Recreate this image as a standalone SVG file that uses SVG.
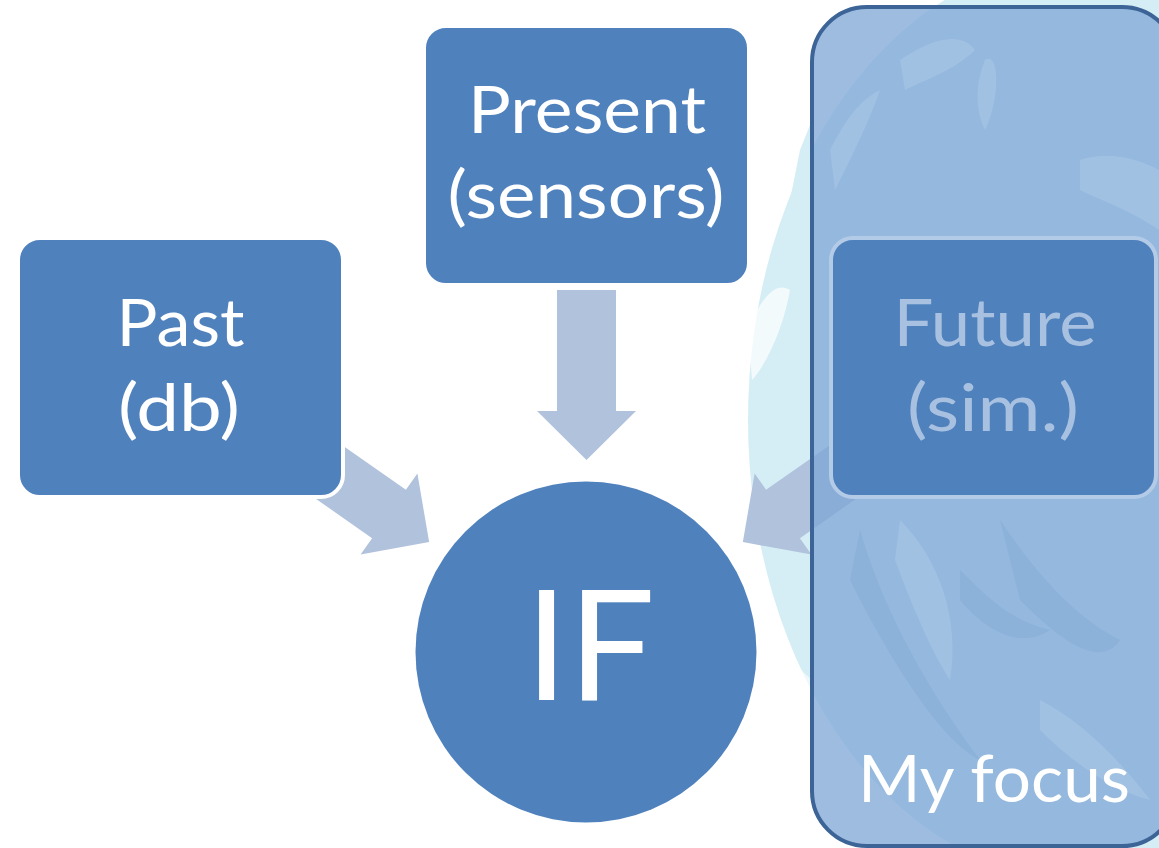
<svg xmlns="http://www.w3.org/2000/svg" width="1159" height="848" viewBox="0 0 1159 848">
  <style>
    .box { fill: #4f81bd; stroke: #ffffff; stroke-width: 4; }
    .arrow { fill: #b1c2dd; }
    .lbl { font-family: Lato, "Open Sans", "Liberation Sans", sans-serif; fill: #ffffff; text-anchor: middle; font-size: 66px; }
    .globe { fill: #d5eef5; }
    .streak { fill: #ffffff; opacity: 0.13; }
    .dstreak { fill: #5d8ec8; opacity: 0.14; }
  </style>
  <defs>
    <polygon id="arrowShape" points="-121,-29.5 0,-29.5 0,-49.5 49,0 0,49.5 0,29.5 -121,29.5"/>
  </defs>
  <rect width="1159" height="848" fill="#ffffff"/>

  <g id="background">
    <ellipse class="globe" cx="1080" cy="420" rx="332" ry="460"/>
    <path class="globe" d="M790 200 L800 150 L812 120 L812 260 L796 240 Z"/>
    <path d="M748 330 C760 300 775 280 790 290 C785 320 770 360 752 380 Z" fill="#ffffff" opacity="0.7"/>
    <path d="M760 600 C770 640 790 660 812 680 L812 760 C790 720 770 680 760 640 Z" fill="#ffffff" opacity="0.6"/>
  </g>

  <g id="connectors">
    <polygon class="arrow" points="557,290 616,290 616,411 636,411 586.5,460 537,411 557,411"/>
    <use href="#arrowShape" class="arrow" transform="translate(389,514) rotate(35)"/>
    <use href="#arrowShape" class="arrow" transform="translate(1172,0) scale(-1,1) translate(389,514) rotate(35)"/>
  </g>

  <g id="past">
    <rect class="box" x="18" y="238" width="325" height="259" rx="22"/>
    <text class="lbl" x="180.5" y="346" textLength="128" lengthAdjust="spacingAndGlyphs">Past</text>
    <text class="lbl" x="179" y="431" textLength="122" lengthAdjust="spacingAndGlyphs">(db)</text>
  </g>

  <g id="present">
    <rect class="box" x="424" y="26" width="325" height="259" rx="22"/>
    <text class="lbl" x="587" y="133" textLength="238" lengthAdjust="spacingAndGlyphs">Present</text>
    <text class="lbl" x="586" y="218" textLength="277" lengthAdjust="spacingAndGlyphs">(sensors)</text>
  </g>

  <g id="if">
    <circle cx="586" cy="652" r="170.5" fill="#4f81bd"/>
    <text class="lbl" x="590" y="700" style="font-size:154px">IF</text>
  </g>

  <g id="focus">
    <rect x="812" y="7" width="365" height="839" rx="55" fill="#7ea6d6" fill-opacity="0.75" stroke="#3d6497" stroke-width="4"/>
    <path class="streak" d="M900 60 C930 40 960 30 975 50 C955 70 925 80 905 90 Z"/>
    <path class="streak" d="M985 60 C1000 50 1000 100 985 130 C975 110 975 85 985 60 Z"/>
    <path class="streak" d="M830 150 C845 120 860 100 880 90 C870 120 850 160 835 190 Z"/>
    <path class="streak" d="M1080 160 C1110 150 1140 160 1159 170 L1159 230 C1130 210 1100 200 1080 190 Z"/>
    <path class="streak" d="M900 520 C940 560 960 620 950 680 C930 650 910 600 895 560 Z"/>
    <path class="dstreak" d="M860 530 C880 600 920 680 980 760 C940 740 890 660 850 580 Z"/>
    <path class="dstreak" d="M1000 520 C1040 580 1080 620 1120 640 C1100 670 1060 640 1020 600 Z"/>
    <path class="streak" d="M1040 700 C1080 720 1120 760 1150 800 C1110 790 1070 760 1040 730 Z"/>
    <path class="dstreak" d="M960 570 C990 600 1010 620 1050 630 C1020 650 985 630 960 600 Z"/>
    <text class="lbl" x="994" y="802" textLength="272" lengthAdjust="spacingAndGlyphs">My focus</text>
  </g>

  <g id="future">
    <rect x="831" y="238" width="325" height="259" rx="22" fill="#4f81bd" stroke="#b4cbe7" stroke-width="4"/>
    <text class="lbl" x="995" y="346" style="fill:#a9c1e0" textLength="203" lengthAdjust="spacingAndGlyphs">Future</text>
    <text class="lbl" x="993" y="431" style="fill:#a9c1e0" textLength="172" lengthAdjust="spacingAndGlyphs">(sim.)</text>
  </g>
</svg>
